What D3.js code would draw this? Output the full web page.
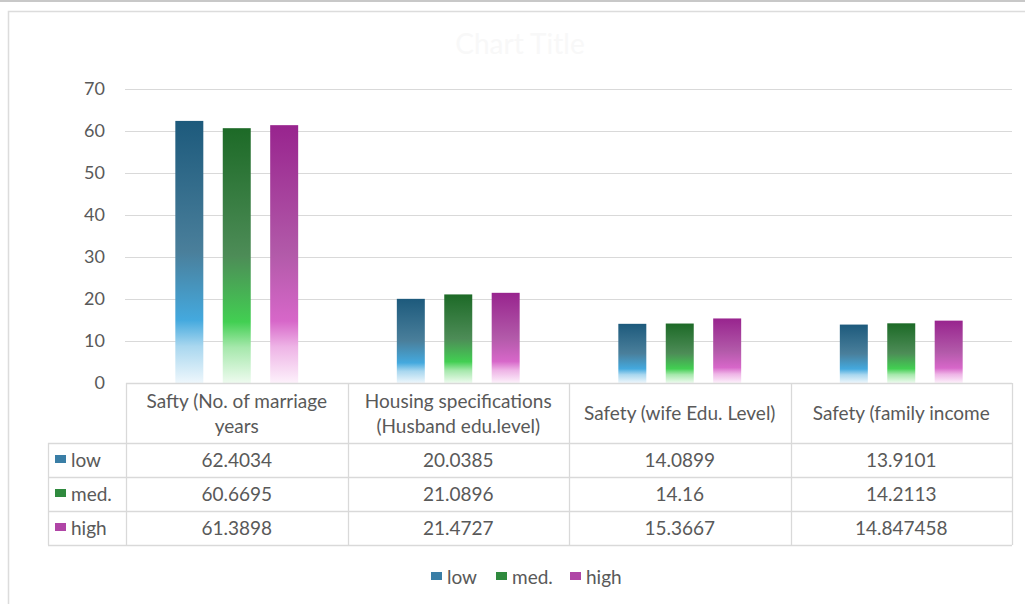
<!DOCTYPE html>
<html>
<head>
<meta charset="utf-8">
<script src="https://cdn.jsdelivr.net/npm/d3@7"></script>
<style>
  html, body { margin: 0; padding: 0; background: #fff; }
  svg { display: block; font-family: Lato, "Open Sans", sans-serif; }
</style>
</head>
<body>
<svg id="chart" width="1025" height="604"></svg>
<script>
// Category labels (table column headers)
const categories = [
  "Safty (No. of marriage years",
  "Housing specifications (Husband edu.level)",
  "Safety (wife Edu. Level)",
  "Safety (family income"
];
// Series names
const seriesNames = ["low", "med.", "high"];
// Series values, one per category
const lowValues  = [62.4034, 20.0385, 14.0899, 13.9101];
const medValues  = [60.6695, 21.0896, 14.16, 14.2113];
const highValues = [61.3898, 21.4727, 15.3667, 14.847458];
// Y axis ticks
const yTicks = [0, 10, 20, 30, 40, 50, 60, 70];
const chartTitle = "Chart Title";

const series = [
  { name: seriesNames[0], values: lowValues,  id: "g-low",  stops: ["#1d5a7c", "#4a7f9b", "#44a9de", "#a9d7ef", "#eef7fc"], key: "#3a7ea6" },
  { name: seriesNames[1], values: medValues,  id: "g-med",  stops: ["#1d6a27", "#4d8c57", "#42cf52", "#a6e8ac", "#eefbef"], key: "#2f8a3e" },
  { name: seriesNames[2], values: highValues, id: "g-high", stops: ["#98248e", "#b25aa9", "#d767c9", "#eeb4e6", "#fdf1fb"], key: "#b045a6" }
];

const svg = d3.select("#chart");
const textColor = "#595959";
const gridColor = "#d9d9d9";
const fontSize = 19;

// gradients for the bars
const defs = svg.append("defs");
series.forEach(s => {
  const g = defs.append("linearGradient")
    .attr("id", s.id).attr("x1", 0).attr("y1", 0).attr("x2", 0).attr("y2", 1);
  const offs = [0, 0.5, 0.76, 0.86, 1];
  offs.forEach((o, i) => g.append("stop").attr("offset", o).attr("stop-color", s.stops[i]));
});

// page edge and chart frame
svg.append("line").attr("x1", 0).attr("x2", 1025).attr("y1", 1).attr("y2", 1)
  .attr("stroke", "#c8c8c8").attr("stroke-width", 2);
svg.append("rect").attr("x", 8.5).attr("y", 11.5).attr("width", 1100).attr("height", 700)
  .attr("fill", "#fff").attr("stroke", "#dcdcdc").attr("stroke-width", 1.5);

// faint title
svg.append("text").attr("x", 520).attr("y", 54).attr("text-anchor", "middle")
  .attr("font-size", 28).attr("fill", "#f8f8f8").text(chartTitle);

// scales
const y = d3.scaleLinear().domain([0, 70]).range([383, 89]);
const x = d3.scaleBand().domain(categories).range([126, 1012]).padding(0);
const xs = d3.scaleBand().domain(seriesNames).range([0, x.bandwidth()])
  .paddingInner(0.41).paddingOuter(1.04);

// gridlines
svg.append("g").selectAll("line").data(yTicks.filter(t => t > 0)).join("line")
  .attr("x1", 125).attr("x2", 1012)
  .attr("y1", d => Math.round(y(d)) + 0.5).attr("y2", d => Math.round(y(d)) + 0.5)
  .attr("stroke", gridColor).attr("stroke-width", 1.2);

// y axis labels
const yAxis = d3.axisLeft(y).tickValues(yTicks).tickSize(0).tickPadding(0);
const ya = svg.append("g").attr("transform", "translate(105,0)").call(yAxis);
ya.select(".domain").remove();
ya.selectAll("text").attr("font-size", 18).attr("fill", textColor)
  .attr("font-family", "Lato, 'Open Sans', sans-serif");

// bars
series.forEach(s => {
  svg.append("g").selectAll("rect").data(s.values).join("rect")
    .attr("x", (d, i) => x(categories[i]) + xs(s.name))
    .attr("width", xs.bandwidth())
    .attr("y", d => y(d))
    .attr("height", d => y(0) - y(d))
    .attr("fill", `url(#${s.id})`);
});

// data table
const tableTop = 383, headerH = 60, rowH = 34, rowHeadLeft = 48;
const tableBottom = tableTop + headerH + rowH * series.length;
const tbl = svg.append("g").attr("stroke", gridColor).attr("stroke-width", 1.3);
// horizontal lines
tbl.append("line").attr("x1", 126).attr("x2", 1012).attr("y1", tableTop + 0.5).attr("y2", tableTop + 0.5);
d3.range(series.length + 1).forEach(i => {
  const yy = tableTop + headerH + rowH * i + 0.5;
  tbl.append("line").attr("x1", rowHeadLeft).attr("x2", 1012).attr("y1", yy).attr("y2", yy);
});
// vertical lines
const colEdges = categories.map(c => x(c)).concat([x.range()[1]]);
colEdges.forEach(cx => {
  tbl.append("line").attr("x1", Math.round(cx) + 0.5).attr("x2", Math.round(cx) + 0.5)
    .attr("y1", tableTop).attr("y2", tableBottom);
});
tbl.append("line").attr("x1", rowHeadLeft + 0.5).attr("x2", rowHeadLeft + 0.5)
  .attr("y1", tableTop + headerH).attr("y2", tableBottom);

// header labels, wrapped to the column width
categories.forEach(c => {
  const cx = x(c) + x.bandwidth() / 2;
  const t = svg.append("text").attr("text-anchor", "middle").attr("font-size", fontSize)
    .attr("fill", textColor).attr("x", cx);
  const words = c.split(" ");
  const lines = [];
  let line = [];
  const probe = t.append("tspan");
  words.forEach(w => {
    line.push(w);
    probe.text(line.join(" "));
    if (probe.node().getComputedTextLength() > 214 && line.length > 1) {
      line.pop();
      lines.push(line.join(" "));
      line = [w];
    }
  });
  lines.push(line.join(" "));
  probe.remove();
  const lh = 25;
  const startY = tableTop + headerH / 2 - (lines.length - 1) * lh / 2 + 7;
  lines.forEach((l, i) => t.append("tspan").attr("x", cx)
    .attr("y", startY + i * lh).text(l));
});

// table rows: legend key, series name and values
series.forEach((s, r) => {
  const cy = tableTop + headerH + rowH * r + rowH / 2;
  svg.append("rect").attr("x", 55).attr("y", cy - 5).attr("width", 11).attr("height", 8)
    .attr("fill", s.key);
  svg.append("text").attr("x", 71).attr("y", cy + 7).attr("font-size", fontSize)
    .attr("fill", textColor).text(s.name);
  s.values.forEach((v, i) => {
    svg.append("text").attr("x", x(categories[i]) + x.bandwidth() / 2).attr("y", cy + 7)
      .attr("text-anchor", "middle").attr("font-size", fontSize).attr("fill", textColor)
      .text(String(v));
  });
});

// legend
const legendX = [431, 496, 570];
series.forEach((s, i) => {
  const g = svg.append("g").attr("transform", `translate(${legendX[i]},577)`);
  g.append("rect").attr("x", 0).attr("y", -5).attr("width", 11).attr("height", 8).attr("fill", s.key);
  g.append("text").attr("x", 16).attr("y", 7).attr("font-size", fontSize).attr("fill", textColor).text(s.name);
});
</script>
</body>
</html>
